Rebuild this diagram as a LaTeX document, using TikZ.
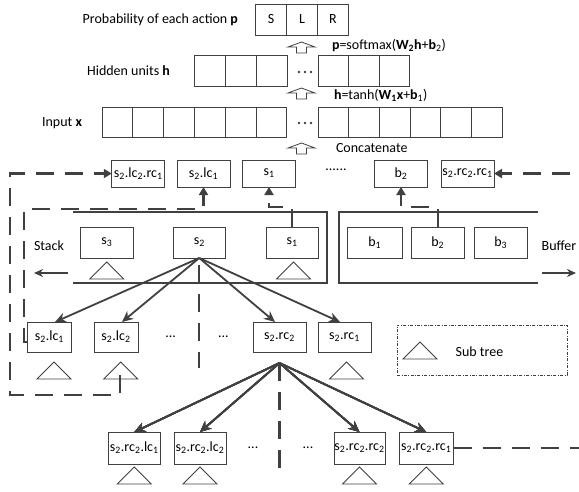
\documentclass[tikz,border=0pt]{standalone}
\usepackage{fontspec}
\setmainfont{Carlito}
\usetikzlibrary{arrows.meta,calc}
\definecolor{ln}{HTML}{404040}
\newcommand\sbs[1]{\textsubscript{#1}}
\newcommand\subtri[1]{\draw[tri] #1 -- ++(-17,17) -- ++(34,0) -- cycle;}
\newcommand\hup[1]{\draw[hollow] #1 -- ++(13.5,5) -- ++(-8.5,0) -- ++(0,6) -- ++(-10,0) -- ++(0,-6) -- ++(-8.5,0) -- cycle;}
\begin{document}
\begin{tikzpicture}[x=1pt,y=-1pt,
  every node/.style={font=\fontsize{14}{16}\selectfont, inner sep=0pt, outer sep=0pt},
  box/.style={draw=ln, line width=0.8pt, minimum height=31pt, minimum width=31pt},
  fbox/.style={box, minimum width=53pt, minimum height=27pt},
  tri/.style={draw=ln, line width=0.8pt},
  thickln/.style={draw=ln, line width=2.6pt},
  treearr/.style={draw=ln, line width=1.8pt, -{Stealth[length=11pt,width=10pt]}},
  dsh/.style={draw=ln, line width=2.3pt, dash pattern=on 18pt off 11pt},
  dsharr/.style={dsh, -{Triangle[length=8pt,width=9pt]}},
  hollow/.style={draw=ln, line width=0.8pt, fill=white},
  arr/.style={draw=ln, line width=1.8pt, -{Stealth[length=9pt,width=8pt]}},
]
\useasboundingbox (0,0) rectangle (579,491);
\clip (0,0) rectangle (579,491);

% --- network part
\node[anchor=east] (lp) at (238,20) {Probability of each action \textbf{p}};
\foreach \t [count=\i] in {S,L,R}
  \node[box] (p\i) at ({271+31*(\i-1)},19.5) {\t};
\hup{(301.5,42)}
\node[anchor=west] (lsm) at (332,45) {\textbf{p}=softmax(\textbf{W\sbs{2}h}+\textbf{b}\sbs{2})};

\node[anchor=east] (lh) at (170,71) {Hidden units \textbf{h}};
\foreach \i in {1,2,3} {
  \node[box] (hl\i) at ({209.5+31*(\i-1)},70.5) {};
  \node[box, minimum width=30.5pt] (hr\i) at ({333.25+30.5*(\i-1)},70.5) {};
}
\foreach \xx in {299,305,311} \fill[ln] (\xx,72) circle (1.4);
\hup{(301.5,88)}
\node[anchor=west] (lth) at (334,95) {\textbf{h}=tanh(\textbf{W\sbs{1}x}+\textbf{b}\sbs{1})};

\node[anchor=east] (lx) at (82,123) {Input \textbf{x}};
\foreach \i in {1,...,6} {
  \node[box, minimum width=30.8pt, minimum height=30pt] (xl\i) at ({117.4+30.8*(\i-1)},122) {};
  \node[box, minimum width=30.7pt, minimum height=30pt] (xr\i) at ({333.35+30.7*(\i-1)},122) {};
}
\foreach \xx in {299,305,311} \fill[ln] (\xx,123) circle (1.4);
\hup{(301.5,143)}
\node[anchor=west] (lcat) at (336,148) {Concatenate};

% --- feature row
\node[fbox] (f1) at (138.25,173.5) {s\sbs{2}.lc\sbs{2}.rc\sbs{1}};
\node[fbox] (f2) at (203.5,173.5) {s\sbs{2}.lc\sbs{1}};
\node[fbox] (f3) at (269,173.5) {s\sbs{1}};
\node (fdots) at (336,170) {......};
\node[fbox] (f4) at (401,173.5) {b\sbs{2}};
\node[fbox] (f5) at (467.5,173.5) {s\sbs{2}.rc\sbs{2}.rc\sbs{1}};

% --- stack and buffer
\draw[thickln] (73,212) -- (327,212) -- (327,283) -- (73,283);
\draw[thickln] (538,212) -- (339,212) -- (339,283) -- (538,283);
\node[box, minimum width=52.5pt] (s3) at (106.75,242.5) {s\sbs{3}};
\node[box, minimum width=51.5pt] (s2) at (199.25,242.5) {s\sbs{2}};
\node[box, minimum width=52pt] (s1) at (292,242.5) {s\sbs{1}};
\node[box, minimum width=55.5pt] (b1) at (374.75,242.5) {b\sbs{1}};
\node[box, minimum width=53.5pt] (b2) at (437.75,242.5) {b\sbs{2}};
\node[box, minimum width=52.5pt] (b3) at (500.75,242.5) {b\sbs{3}};
\subtri{([yshift=-4pt]s3.south)}
\subtri{([yshift=-4pt,xshift=1.5pt]s1.south)}
\node (lstack) at (49,246) {Stack};
\node (lbuf) at (559,246) {Buffer};
\coordinate (sa1) at (67.6,273); \coordinate (sa2) at (34,273);
\coordinate (ba1) at (542,273); \coordinate (ba2) at (576,273);
\draw[arr] (sa1) -- (sa2);
\draw[arr] (ba1) -- (ba2);

% --- second level
\node[box, minimum width=43.3pt, minimum height=30pt] (lc1) at (49.4,337) {s\sbs{2}.lc\sbs{1}};
\node[box, minimum width=44pt, minimum height=30pt] (lc2) at (116,337) {s\sbs{2}.lc\sbs{2}};
\node (d1) at (170.6,337) {...};
\node (d2) at (223.4,337) {...};
\node[box, minimum width=53pt, minimum height=30pt] (rc2) at (279.5,337) {s\sbs{2}.rc\sbs{2}};
\node[box, minimum width=53pt, minimum height=30pt] (rc1) at (344.5,337) {s\sbs{2}.rc\sbs{1}};
\subtri{([yshift=-10pt,xshift=4.6pt]lc1.south)}
\subtri{([yshift=-10pt,xshift=4.75pt]lc2.south)}
\subtri{([yshift=-10pt,xshift=2pt]rc1.south)}
\draw[treearr] (s2.south) -- ([xshift=5.6pt]lc1.north);
\draw[treearr] (s2.south) -- ([xshift=6pt]lc2.north);
\draw[treearr] (s2.south) -- ([xshift=-4.5pt]rc2.north);
\draw[treearr] (s2.south) -- ([xshift=-4.5pt]rc1.north);
\draw[dsh] ([yshift=-7pt]s2.south) -- ++(0,103);

% --- legend
\node[draw=ln, line width=0.7pt, dash pattern=on 3pt off 1.5pt on 0.8pt off 1.5pt, minimum width=170pt, minimum height=50pt] (leg) at (482,350) {};
\subtri{(420,342)}
\node (lsub) at (479.5,352) {Sub tree};

% --- third level
\coordinate (rca) at ([yshift=-11pt]rc2.south);
\node[box, minimum width=52.6pt, minimum height=32pt] (q1) at (134.3,448) {s\sbs{2}.rc\sbs{2}.lc\sbs{1}};
\node[box, minimum width=52pt, minimum height=32pt] (q2) at (200,448) {s\sbs{2}.rc\sbs{2}.lc\sbs{2}};
\node (d3) at (253,448) {...};
\node (d4) at (308,448) {...};
\node[box, minimum width=51pt, minimum height=32pt] (q3) at (359.5,448) {s\sbs{2}.rc\sbs{2}.rc\sbs{2}};
\node[box, minimum width=54.5pt, minimum height=32pt] (q4) at (426.25,448) {s\sbs{2}.rc\sbs{2}.rc\sbs{1}};
\foreach \q in {q1,q2,q3,q4} \subtri{([yshift=-3pt]\q.south)}
\foreach \q in {q1,q2,q3,q4} \draw[treearr] (rca) -- (\q.north);
\draw[dsh] (rca) -- ++(0,112);

% --- feature extraction paths
\coordinate (o1) at (120,375);
\coordinate (c1) at (10,395);
\draw[dsharr] (o1) |- (c1) |- (f1.west);
\coordinate (c2) at (24,209);
\draw[dsharr] ([yshift=-5pt]lc1.west) -| (c2) -| (f2.south);
\draw[dsharr] (s1.north) -- ++(0,-20) -| (f3.south);
\draw[dsharr] (b2.north) -- ++(0,-20) -| (f4.south);
\coordinate (c3) at (592,448);
\draw[dsharr] (q4.east) -- (c3) |- (f5.east);
\end{tikzpicture}
\end{document}
